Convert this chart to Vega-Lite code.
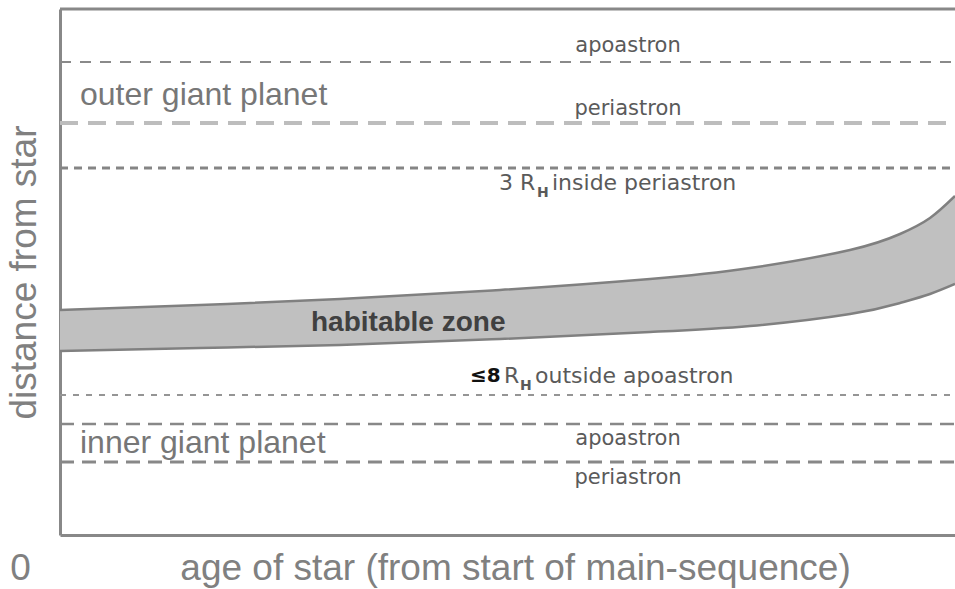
{
  "$schema": "https://vega.github.io/schema/vega-lite/v6.json",
  "width": 895,
  "height": 526,
  "autosize": {"type": "none"},
  "padding": {"left": 60, "top": 9, "right": 0, "bottom": 54},
  "background": "white",
  "config": {"view": {"stroke": null}},
  "datasets": {
    "band": [
      {"age": 0, "upper": 225, "lower": 184},
      {"age": 140, "upper": 230, "lower": 187},
      {"age": 280, "upper": 236, "lower": 190},
      {"age": 440, "upper": 245, "lower": 196},
      {"age": 590, "upper": 256, "lower": 203},
      {"age": 690, "upper": 267, "lower": 209},
      {"age": 790, "upper": 285, "lower": 221},
      {"age": 840, "upper": 301, "lower": 232},
      {"age": 870, "upper": 317, "lower": 241},
      {"age": 895, "upper": 339, "lower": 251}
    ],
    "levels": [
      {"line": "outer apoastron", "dist": 473},
      {"line": "outer periastron", "dist": 412},
      {"line": "3 RH inside periastron", "dist": 367},
      {"line": "8 RH outside apoastron", "dist": 140},
      {"line": "inner apoastron", "dist": 111},
      {"line": "inner periastron", "dist": 73},
      {"line": "frame", "dist": 526}
    ],
    "labels": [
      {"group": "orbit", "text": "apoastron", "age": 568, "dist": 489},
      {"group": "orbit", "text": "periastron", "age": 568, "dist": 426},
      {"group": "orbit", "text": "apoastron", "age": 568, "dist": 96},
      {"group": "orbit", "text": "periastron", "age": 568, "dist": 57},
      {"group": "note", "text": "3 R", "age": 439, "dist": 352},
      {"group": "note", "text": "inside periastron", "age": 492, "dist": 352},
      {"group": "note", "text": "R", "age": 444, "dist": 159},
      {"group": "note", "text": "outside apoastron", "age": 475, "dist": 159},
      {"group": "sub", "text": "H", "age": 477, "dist": 342},
      {"group": "sub", "text": "H", "age": 460, "dist": 149},
      {"group": "le", "text": "≤8", "age": 410, "dist": 159},
      {"group": "planet", "text": "outer giant planet", "age": 20, "dist": 440},
      {"group": "planet", "text": "inner giant planet", "age": 20, "dist": 92},
      {"group": "hz", "text": "habitable zone", "age": 251, "dist": 212}
    ]
  },
  "encoding": {
    "x": {
      "field": "age", "type": "quantitative",
      "scale": {"domain": [0, 895], "nice": false, "zero": false},
      "axis": {
        "title": "age of star (from start of main-sequence)",
        "values": [0], "ticks": false, "tickSize": 0, "grid": false,
        "domainColor": "#888888", "domainWidth": 3,
        "labelFont": "Liberation Sans", "labelFontSize": 37, "labelColor": "#808080",
        "labelOffset": -40, "labelPadding": 33, "labelBaseline": "middle", "labelFlush": false,
        "titleFont": "Liberation Sans", "titleFontSize": 37, "titleFontWeight": "normal", "titleColor": "#808080",
        "titleX": 455, "titleY": 33, "titleBaseline": "middle", "titleAlign": "center"
      }
    },
    "y": {
      "field": "dist", "type": "quantitative",
      "scale": {"domain": [0, 526], "nice": false, "zero": false},
      "axis": {
        "title": "distance from star",
        "labels": false, "ticks": false, "tickSize": 0, "grid": false,
        "domainColor": "#888888", "domainWidth": 3,
        "titleFont": "Liberation Sans", "titleFontSize": 37, "titleFontWeight": "normal", "titleColor": "#808080",
        "titleX": -36, "titleBaseline": "middle"
      }
    }
  },
  "layer": [
    {
      "data": {"name": "band"},
      "mark": {"type": "area", "color": "#c0c0c0", "interpolate": "natural", "opacity": 1},
      "encoding": {"y": {"field": "upper"}, "y2": {"field": "lower"}}
    },
    {
      "data": {"name": "band"},
      "mark": {"type": "line", "color": "#808080", "strokeWidth": 2.5, "interpolate": "natural"},
      "encoding": {"y": {"field": "upper"}}
    },
    {
      "data": {"name": "band"},
      "mark": {"type": "line", "color": "#808080", "strokeWidth": 2.5, "interpolate": "natural"},
      "encoding": {"y": {"field": "lower"}}
    },
    {
      "data": {"name": "levels"},
      "transform": [{"filter": "datum.line == 'outer apoastron'"}],
      "mark": {"type": "rule", "color": "#8a8a8a", "strokeWidth": 2, "strokeDash": [11, 9]},
      "encoding": {"x": {"value": 0}, "x2": {"value": 895}}
    },
    {
      "data": {"name": "levels"},
      "transform": [{"filter": "datum.line == 'outer periastron'"}],
      "mark": {"type": "rule", "color": "#bdbdbd", "strokeWidth": 4, "strokeDash": [18, 10]},
      "encoding": {"x": {"value": 0}, "x2": {"value": 895}}
    },
    {
      "data": {"name": "levels"},
      "transform": [{"filter": "datum.line == '3 RH inside periastron'"}],
      "mark": {"type": "rule", "color": "#858585", "strokeWidth": 3, "strokeDash": [8, 6]},
      "encoding": {"x": {"value": 0}, "x2": {"value": 895}}
    },
    {
      "data": {"name": "levels"},
      "transform": [{"filter": "datum.line == '8 RH outside apoastron'"}],
      "mark": {"type": "rule", "color": "#959595", "strokeWidth": 2, "strokeDash": [6, 7]},
      "encoding": {"x": {"value": 0}, "x2": {"value": 895}}
    },
    {
      "data": {"name": "levels"},
      "transform": [{"filter": "datum.line == 'inner apoastron'"}],
      "mark": {"type": "rule", "color": "#888888", "strokeWidth": 2.5, "strokeDash": [14, 8]},
      "encoding": {"x": {"value": 0}, "x2": {"value": 895}}
    },
    {
      "data": {"name": "levels"},
      "transform": [{"filter": "datum.line == 'inner periastron'"}],
      "mark": {"type": "rule", "color": "#888888", "strokeWidth": 3, "strokeDash": [14, 8]},
      "encoding": {"x": {"value": 0}, "x2": {"value": 895}}
    },
    {
      "data": {"name": "levels"},
      "transform": [{"filter": "datum.line == 'frame'"}],
      "mark": {"type": "rule", "color": "#888888", "strokeWidth": 3},
      "encoding": {"x": {"value": 0}, "x2": {"value": 895}}
    },
    {
      "data": {"name": "labels"},
      "transform": [{"filter": "datum.group == 'orbit'"}],
      "mark": {"type": "text", "font": "DejaVu Sans", "fontSize": 21, "color": "#5a5a5a", "align": "center", "baseline": "middle"},
      "encoding": {"text": {"field": "text"}}
    },
    {
      "data": {"name": "labels"},
      "transform": [{"filter": "datum.group == 'note'"}],
      "mark": {"type": "text", "font": "DejaVu Sans", "fontSize": 22, "color": "#5a5a5a", "align": "left", "baseline": "middle"},
      "encoding": {"text": {"field": "text"}}
    },
    {
      "data": {"name": "labels"},
      "transform": [{"filter": "datum.group == 'sub'"}],
      "mark": {"type": "text", "font": "DejaVu Sans", "fontSize": 14, "fontWeight": "bold", "color": "#5a5a5a", "align": "left", "baseline": "middle"},
      "encoding": {"text": {"field": "text"}}
    },
    {
      "data": {"name": "labels"},
      "transform": [{"filter": "datum.group == 'le'"}],
      "mark": {"type": "text", "font": "DejaVu Sans", "fontSize": 20, "fontWeight": "bold", "color": "#111111", "align": "left", "baseline": "middle"},
      "encoding": {"text": {"field": "text"}}
    },
    {
      "data": {"name": "labels"},
      "transform": [{"filter": "datum.group == 'planet'"}],
      "mark": {"type": "text", "font": "Liberation Sans", "fontSize": 32, "color": "#777777", "align": "left", "baseline": "middle"},
      "encoding": {"text": {"field": "text"}}
    },
    {
      "data": {"name": "labels"},
      "transform": [{"filter": "datum.group == 'hz'"}],
      "mark": {"type": "text", "font": "Liberation Sans", "fontSize": 28, "fontWeight": "bold", "color": "#404040", "align": "left", "baseline": "middle"},
      "encoding": {"text": {"field": "text"}}
    }
  ]
}
